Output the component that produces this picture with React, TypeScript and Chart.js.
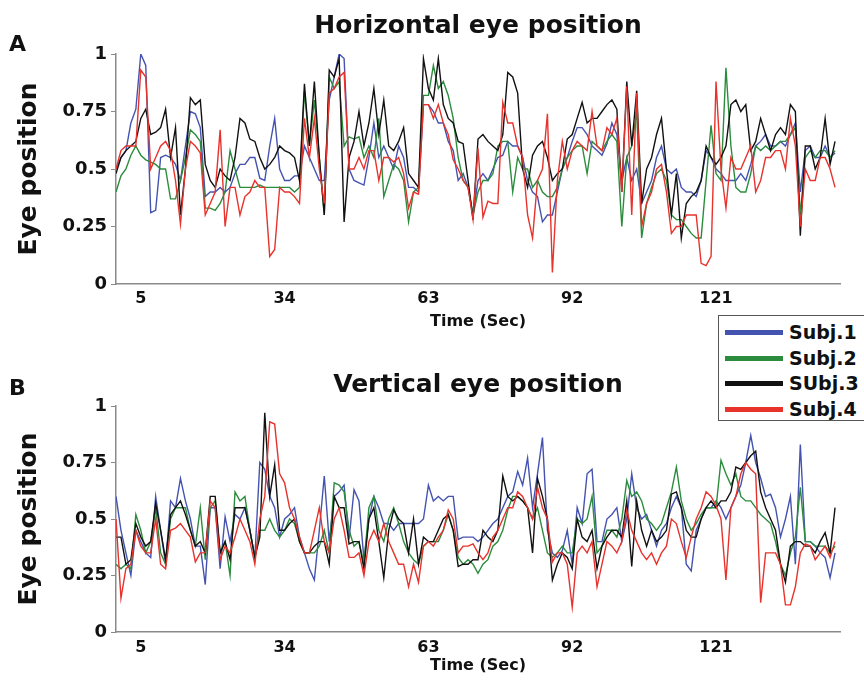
import React, { useEffect, useRef } from 'react';
import { Chart, registerables } from 'chart.js';
Chart.register(...registerables);

const TIME = [
  0,1,2,3,4,5,6,7,8,9,10,11,12,13,14,15,16,17,18,19,20,21,22,23,24,25,26,27,28,29,
  30,31,32,33,34,35,36,37,38,39,40,41,42,43,44,45,46,47,48,49,50,51,52,53,54,55,56,57,58,59,
  60,61,62,63,64,65,66,67,68,69,70,71,72,73,74,75,76,77,78,79,80,81,82,83,84,85,86,87,88,89,
  90,91,92,93,94,95,96,97,98,99,100,101,102,103,104,105,106,107,108,109,110,111,112,113,114,115,116,117,118,119,
  120,121,122,123,124,125,126,127,128,129,130,131,132,133,134,135,136,137,138,139,140,141,142,143,144,145
];

const X_TICKS = [5, 34, 63, 92, 121];
const Y_TICKS = [0, 0.25, 0.5, 0.75, 1];
const SUBJECTS = ['Subj.1', 'Subj.2', 'SUbj.3', 'Subj.4'];
const COLORS = ['#4453b0', '#2a8c3c', '#111111', '#e8322c'];

// Horizontal eye position
const H_SUBJ1 = [
  .50,.55,.58,.70,.76,1.0,.95,.31,.32,.55,
  .56,.55,.52,.45,.60,.75,.74,.68,.38,.40,
  .40,.42,.40,.42,.48,.52,.52,.55,.55,.46,
  .45,.60,.72,.50,.45,.45,.47,.47,.60,.55,
  .50,.45,.45,.80,.90,1.0,.98,.50,.45,.44,
  .43,.55,.70,.55,.60,.55,.50,.60,.55,.42,
  .42,.40,.78,.78,.75,.70,.70,.62,.58,.45,
  .48,.42,.30,.45,.48,.45,.50,.55,.56,.62,
  .60,.60,.55,.45,.40,.38,.27,.30,.30,.40,
  .50,.55,.62,.68,.68,.65,.60,.58,.56,.61,
  .70,.65,.45,.55,.45,.50,.35,.40,.45,.55,
  .60,.50,.48,.50,.42,.40,.40,.38,.45,.58,
  .55,.50,.48,.45,.45,.45,.48,.45,.52,.60,
  .62,.65,.60,.60,.62,.60,.65,.70,.40,.58,
  .60,.55,.55,.60,.55,.57
];
const H_SUBJ2 = [
  .40,.47,.50,.56,.60,.56,.54,.53,.52,.50,
  .50,.37,.37,.45,.55,.67,.65,.62,.33,.33,
  .32,.35,.40,.58,.50,.42,.42,.42,.42,.43,
  .42,.42,.42,.42,.42,.42,.40,.42,.84,.60,
  .80,.55,.30,.90,.85,.88,.60,.64,.63,.64,
  .55,.60,.55,.72,.38,.45,.52,.50,.45,.27,
  .40,.42,.82,.82,.95,.85,.88,.82,.72,.55,
  .45,.42,.30,.40,.45,.45,.48,.60,.62,.62,
  .40,.55,.50,.50,.42,.45,.40,.38,.38,.42,
  .50,.55,.58,.60,.60,.48,.62,.60,.58,.62,
  .65,.62,.25,.55,.60,.75,.20,.35,.42,.48,
  .50,.45,.30,.28,.28,.25,.22,.20,.20,.45,
  .69,.48,.45,.94,.60,.42,.40,.40,.48,.60,
  .58,.60,.58,.60,.62,.62,.65,.68,.30,.55,
  .58,.55,.58,.58,.55,.58
];
const H_SUBJ3 = [
  .48,.55,.58,.60,.62,.72,.76,.65,.66,.68,
  .76,.55,.68,.30,.50,.81,.78,.80,.52,.45,
  .42,.50,.47,.45,.55,.72,.70,.63,.62,.55,
  .50,.52,.55,.60,.58,.57,.55,.45,.87,.60,
  .88,.55,.30,.93,.90,.98,.27,.55,.62,.75,
  .60,.70,.85,.65,.80,.60,.58,.62,.68,.48,
  .45,.42,.98,.85,.80,.98,.78,.72,.70,.62,
  .61,.45,.28,.63,.65,.62,.60,.58,.65,.92,
  .90,.83,.50,.42,.56,.60,.62,.55,.45,.48,
  .50,.63,.65,.72,.79,.70,.72,.72,.75,.78,
  .80,.76,.40,.88,.60,.84,.35,.50,.55,.65,
  .72,.50,.30,.48,.20,.35,.38,.40,.45,.60,
  .55,.52,.55,.60,.78,.80,.75,.78,.58,.62,
  .72,.65,.58,.65,.68,.65,.78,.75,.21,.60,
  .60,.50,.55,.72,.52,.62
];
const H_SUBJ4 = [
  .50,.58,.60,.60,.60,.93,.90,.50,.55,.60,
  .62,.58,.45,.26,.50,.62,.60,.57,.30,.35,
  .40,.67,.25,.42,.42,.30,.38,.40,.45,.42,
  .42,.12,.15,.42,.40,.40,.38,.35,.72,.55,
  .72,.50,.35,.83,.85,.90,.92,.50,.50,.55,
  .50,.58,.58,.45,.55,.55,.53,.55,.48,.33,
  .40,.39,.78,.78,.72,.78,.70,.65,.54,.50,
  .45,.42,.28,.59,.29,.36,.35,.35,.79,.70,
  .70,.60,.55,.30,.20,.45,.50,.74,.05,.45,
  .62,.50,.58,.62,.60,.58,.75,.60,.58,.68,
  .65,.72,.40,.86,.30,.83,.25,.35,.40,.50,
  .52,.40,.22,.25,.25,.30,.30,.30,.09,.08,
  .12,.88,.50,.33,.55,.50,.50,.55,.60,.40,
  .45,.55,.55,.58,.58,.50,.72,.60,.25,.50,
  .45,.45,.55,.55,.50,.42
];

// Vertical eye position
const V_SUBJ1 = [
  .60,.45,.35,.25,.45,.40,.35,.33,.60,.45,
  .30,.58,.55,.68,.58,.50,.38,.38,.21,.55,
  .55,.28,.51,.40,.52,.50,.55,.45,.33,.75,
  .72,.60,.55,.42,.50,.52,.55,.42,.35,.28,
  .23,.45,.69,.40,.60,.62,.65,.41,.63,.58,
  .32,.50,.60,.55,.48,.48,.45,.48,.48,.48,
  .48,.48,.50,.65,.58,.60,.58,.60,.60,.41,
  .42,.42,.42,.40,.42,.45,.48,.50,.55,.60,
  .62,.71,.65,.77,.55,.70,.86,.45,.35,.33,
  .36,.45,.30,.55,.48,.70,.72,.40,.40,.50,
  .52,.55,.40,.50,.70,.55,.50,.52,.45,.38,
  .45,.48,.55,.60,.55,.30,.27,.45,.50,.55,
  .55,.58,.55,.50,.55,.60,.65,.75,.87,.75,
  .68,.60,.61,.55,.42,.50,.60,.30,.83,.40,
  .40,.38,.35,.33,.24,.35
];
const V_SUBJ2 = [
  .30,.28,.30,.28,.52,.45,.35,.40,.55,.35,
  .30,.50,.55,.55,.55,.45,.38,.55,.32,.55,
  .58,.35,.40,.25,.62,.58,.60,.45,.33,.45,
  .45,.50,.45,.42,.45,.50,.48,.40,.35,.35,
  .35,.38,.45,.35,.66,.65,.62,.45,.38,.40,
  .30,.55,.60,.45,.40,.50,.55,.48,.40,.35,
  .32,.30,.38,.40,.40,.40,.45,.52,.45,.33,
  .30,.32,.30,.26,.30,.32,.38,.40,.45,.54,
  .60,.60,.58,.55,.50,.55,.45,.35,.33,.35,
  .38,.35,.35,.50,.48,.50,.60,.35,.38,.45,
  .45,.42,.50,.67,.60,.62,.58,.50,.48,.45,
  .48,.55,.62,.73,.58,.50,.45,.48,.52,.55,
  .55,.55,.76,.70,.65,.70,.60,.58,.58,.55,
  .52,.50,.48,.40,.30,.25,.35,.42,.64,.40,
  .40,.38,.38,.38,.35,.38
];
const V_SUBJ3 = [
  .42,.42,.30,.32,.48,.42,.38,.40,.57,.45,
  .32,.52,.55,.58,.52,.45,.38,.40,.35,.60,
  .60,.35,.40,.32,.55,.55,.55,.45,.33,.42,
  .97,.60,.74,.45,.45,.48,.50,.40,.35,.35,
  .38,.40,.40,.30,.60,.55,.55,.39,.40,.40,
  .28,.50,.55,.40,.24,.45,.54,.50,.48,.35,
  .50,.30,.42,.40,.40,.45,.50,.52,.45,.29,
  .30,.30,.32,.32,.45,.42,.40,.45,.69,.60,
  .58,.60,.58,.55,.35,.68,.60,.50,.23,.30,
  .35,.33,.28,.50,.42,.40,.45,.28,.38,.42,
  .45,.45,.42,.58,.29,.58,.45,.38,.45,.40,
  .42,.45,.61,.62,.55,.45,.42,.42,.50,.55,
  .58,.55,.58,.58,.62,.73,.72,.75,.78,.80,
  .62,.55,.50,.45,.30,.22,.38,.40,.40,.38,
  .38,.35,.40,.44,.35,.55
];
const V_SUBJ4 = [
  .50,.15,.28,.30,.45,.38,.35,.35,.50,.30,
  .28,.45,.46,.48,.45,.42,.31,.35,.35,.58,
  .55,.32,.38,.35,.42,.50,.45,.40,.30,.50,
  .60,.93,.92,.70,.66,.55,.50,.42,.35,.35,
  .45,.55,.40,.35,.50,.55,.45,.33,.33,.35,
  .25,.40,.45,.40,.48,.40,.35,.30,.30,.20,
  .30,.22,.38,.40,.38,.42,.45,.54,.50,.35,
  .38,.38,.39,.35,.32,.35,.42,.45,.50,.55,
  .55,.62,.60,.55,.50,.64,.55,.50,.31,.35,
  .35,.30,.11,.35,.38,.35,.40,.20,.30,.40,
  .38,.35,.40,.54,.45,.40,.35,.32,.35,.30,
  .35,.38,.50,.48,.40,.33,.42,.50,.55,.62,
  .60,.56,.50,.23,.55,.60,.70,.75,.72,.70,
  .13,.35,.35,.35,.30,.12,.12,.20,.35,.39,
  .38,.32,.35,.38,.33,.40
];

const H_SERIES = [H_SUBJ1, H_SUBJ2, H_SUBJ3, H_SUBJ4];
const V_SERIES = [V_SUBJ1, V_SUBJ2, V_SUBJ3, V_SUBJ4];

const FONT = "'DejaVu Sans', Verdana, sans-serif";
const AXIS_GRAY = '#8a8a8a';

type PanelProps = {
  title: string;
  series: number[][];
  top: number;
  height: number;
  areaTop: number;
  areaBottom: number;
  titleCenter: number;
  xTickPad: number;
  xTitlePad: number;
};

function Panel(p: PanelProps) {
  const ref = useRef<HTMLCanvasElement | null>(null);
  useEffect(() => {
    if (!ref.current) return;
    const titleSize = 25;
    const titleLH = titleSize * 1.2;
    const tTop = p.titleCenter - titleLH / 2;
    const tBottom = p.areaTop - tTop - titleLH;
    const order = [3, 2, 1, 0];
    const chart = new Chart(ref.current, {
      type: 'line',
      data: {
        datasets: p.series.map((vals, i) => ({
          label: SUBJECTS[i],
          data: vals.map((v, j) => ({ x: TIME[j], y: v })),
          borderColor: COLORS[i],
          backgroundColor: COLORS[i],
          borderWidth: 1.4,
          pointRadius: 0,
          tension: 0,
          fill: false,
          order: order[i],
        })),
      },
      options: {
        animation: false,
        responsive: false,
        maintainAspectRatio: false,
        layout: { padding: { left: 0, right: 24, top: 0, bottom: 0 } },
        plugins: {
          legend: { display: false },
          tooltip: { enabled: false },
          title: {
            display: true,
            fullSize: false,
            text: p.title,
            color: '#111',
            font: { family: FONT, size: titleSize, weight: 'bold', lineHeight: 1.2 },
            padding: { top: tTop, bottom: tBottom },
          },
        },
        scales: {
          x: {
            type: 'linear',
            min: 0,
            max: 146,
            afterBuildTicks: (s: any) => {
              s.ticks = X_TICKS.map((v) => ({ value: v }));
            },
            afterFit: (s: any) => {
              s.height = p.height - p.areaBottom;
            },
            grid: { display: false, drawTicks: false },
            border: { display: true, color: AXIS_GRAY, width: 1.5 },
            ticks: {
              color: '#111',
              font: { family: FONT, size: 16, weight: 'bold' },
              padding: p.xTickPad,
              maxRotation: 0,
              autoSkip: false,
              callback: (v: any) => String(v),
            },
            title: {
              display: true,
              text: 'Time (Sec)',
              color: '#111',
              font: { family: FONT, size: 16, weight: 'bold', lineHeight: 1.2 },
              padding: { top: 0, bottom: p.xTitlePad },
            },
          },
          y: {
            min: 0,
            max: 1,
            afterBuildTicks: (s: any) => {
              s.ticks = Y_TICKS.map((v) => ({ value: v }));
            },
            afterFit: (s: any) => {
              s.width = 116;
            },
            grid: { drawOnChartArea: false, drawTicks: true, tickLength: 5, color: AXIS_GRAY },
            border: { display: true, color: AXIS_GRAY, width: 1.5 },
            ticks: {
              color: '#111',
              font: { family: FONT, size: 18, weight: 'bold' },
              padding: 4,
              callback: (v: any) => String(v),
            },
            title: {
              display: true,
              text: 'Eye position',
              color: '#111',
              font: { family: FONT, size: 25, weight: 'bold', lineHeight: 1.2 },
              padding: { top: 14, bottom: 0 },
            },
          },
        },
      } as any,
    });
    return () => chart.destroy();
  }, []);
  return (
    <div style={{ position: 'absolute', left: 0, top: p.top, width: 864, height: p.height }}>
      <canvas ref={ref} width={864} height={p.height} style={{ display: 'block', width: 864, height: p.height }} />
    </div>
  );
}

const letterStyle: React.CSSProperties = {
  position: 'absolute',
  fontFamily: FONT,
  fontWeight: 'bold',
  fontSize: 22,
  color: '#111',
  lineHeight: '24px',
};

export default function App() {
  return (
    <div
      style={{
        position: 'absolute',
        left: 0,
        top: 0,
        width: 864,
        height: 685,
        overflow: 'hidden',
        background: '#fff',
      }}
    >
      <Panel
        title="Horizontal eye position"
        series={H_SERIES}
        top={0}
        height={340}
        areaTop={54}
        areaBottom={284}
        titleCenter={26}
        xTickPad={5}
        xTitlePad={9}
      />
      <Panel
        title="Vertical eye position"
        series={V_SERIES}
        top={342}
        height={343}
        areaTop={64}
        areaBottom={290}
        titleCenter={43}
        xTickPad={6}
        xTitlePad={10}
      />
      <div style={{ ...letterStyle, left: 9, top: 32 }}>A</div>
      <div style={{ ...letterStyle, left: 9, top: 376 }}>B</div>
      <div
        style={{
          position: 'absolute',
          left: 718,
          top: 315,
          width: 170,
          height: 106,
          border: '1.5px solid #555',
          background: '#fff',
          boxSizing: 'border-box',
        }}
      >
        {SUBJECTS.map((s, i) => (
          <div
            key={s}
            style={{ position: 'absolute', left: 0, top: 4 + i * 25.5, height: 24, width: 170 }}
          >
            <div
              style={{
                position: 'absolute',
                left: 6,
                top: 10,
                width: 58,
                height: 5,
                background: COLORS[i],
              }}
            />
            <div
              style={{
                position: 'absolute',
                left: 70,
                top: 0,
                fontFamily: FONT,
                fontWeight: 'bold',
                fontSize: 19,
                lineHeight: '24px',
                color: '#111',
                whiteSpace: 'nowrap',
              }}
            >
              {s}
            </div>
          </div>
        ))}
      </div>
    </div>
  );
}
